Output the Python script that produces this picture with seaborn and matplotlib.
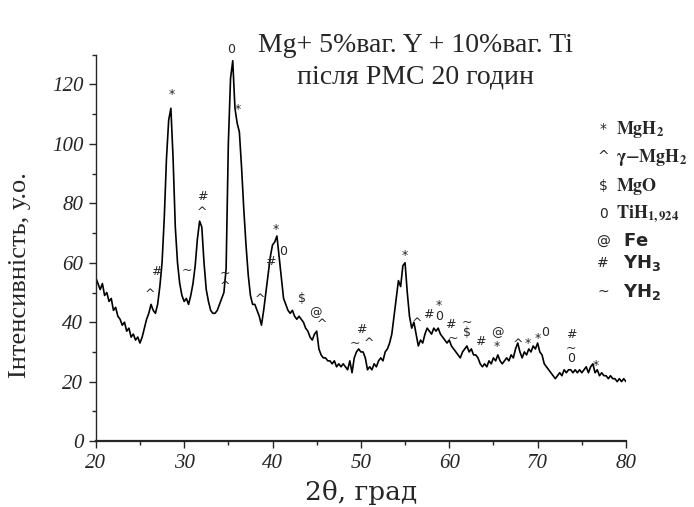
import numpy as np
import pandas as pd
import matplotlib
matplotlib.use("Agg")
import matplotlib.pyplot as plt
import seaborn as sns

# ---- data ----
two_theta_start, two_theta_end, two_theta_step = 20.0, 80.0, 0.25
intensity = [
    55, 53, 51, 53, 49, 50, 47, 48,        # 20.00 - 21.75
    44, 45, 42, 41, 39, 40, 37, 38,        # 22.00 - 23.75
    35, 36, 34, 35, 33, 35, 38, 41,        # 24.00 - 25.75
    43, 46, 44, 43, 46, 52, 60, 75,        # 26.00 - 27.75
    95, 108, 112, 95, 72, 60, 53, 49,      # 28.00 - 29.75
    47, 48, 46, 49, 53, 59, 68, 74,        # 30.00 - 31.75
    72, 60, 51, 47, 44, 43, 43, 44,        # 32.00 - 33.75
    46, 48, 50, 58, 100, 122, 128, 112,    # 34.00 - 35.75
    107, 104, 92, 78, 66, 56, 49, 46,      # 36.00 - 37.75
    46, 44, 42, 39, 44, 50, 56, 62,        # 38.00 - 39.75
    66, 67, 69, 62, 55, 48, 46, 44,        # 40.00 - 41.75
    43, 44, 42, 41, 42, 41, 40, 38,        # 42.00 - 43.75
    37, 35, 34, 36, 37, 31, 29, 28,        # 44.00 - 45.75
    28, 27, 27, 26, 27, 25, 26, 25,        # 46.00 - 47.75
    26, 25, 24, 27, 23, 28, 30, 31,        # 48.00 - 49.75
    30, 30, 28, 24, 25, 24, 26, 25,        # 50.00 - 51.75
    27, 28, 27, 30, 31, 33, 36, 42,        # 52.00 - 53.75
    48, 54, 52, 59, 60, 50, 42, 38,        # 54.00 - 55.75
    40, 36, 32, 34, 33, 36, 38, 37,        # 56.00 - 57.75
    36, 38, 37, 38, 36, 35, 34, 33,        # 58.00 - 59.75
    34, 32, 31, 30, 29, 28, 30, 31,        # 60.00 - 61.75
    32, 30, 31, 29, 29, 28, 26, 25,        # 62.00 - 63.75
    26, 25, 27, 26, 28, 27, 29, 27,        # 64.00 - 65.75
    26, 27, 28, 27, 29, 28, 31, 33,        # 66.00 - 67.75
    30, 28, 30, 29, 31, 30, 32, 31,        # 68.00 - 69.75
    33, 30, 29, 26, 25, 24, 23, 22,        # 70.00 - 71.75
    21, 22, 23, 22, 24, 23, 24, 24,        # 72.00 - 73.75
    23, 24, 23, 24, 23, 24, 25, 23,        # 74.00 - 75.75
    25, 26, 23, 24, 22, 23, 22, 22,        # 76.00 - 77.75
    21, 22, 21, 21, 20, 21, 20, 21,        # 78.00 - 79.75
    20,                                    # 80.00
]

# phase markers placed on the pattern (stacked markers share one entry)
ann_symbols = ['^', '#', '*', '~', '#', '^', '~', '^', '0', '*',
               '^', '#', '*', '0', '$', '@', '^', '~', '#', '^',
               '*', '^', '#', '*\n0', '#', '~', '~\n$', '#',
               '@', '*', '^', '*', '*', '0', '#', '~\n0', '*']
ann_x = [26.1, 26.9, 28.6, 30.3, 32.0, 32.0, 34.6, 34.6, 35.3, 36.1,
         38.6, 39.7, 40.4, 41.2, 43.3, 44.9, 45.6, 49.3, 50.0, 50.9,
         55.0, 56.3, 57.6, 58.8, 60.1, 60.4, 62.05, 63.5,
         65.5, 65.4, 67.8, 68.9, 70.0, 70.9, 73.8, 73.8, 76.6]
ann_y = [49.2, 57.0, 116.6, 57.6, 82.2, 76.8, 56.6, 51.9, 131.8, 111.6,
         47.5, 60.3, 71.1, 63.7, 47.9, 43.1, 39.1, 33.0, 37.6, 32.8,
         62.4, 39.7, 42.5, 43.8, 39.4, 34.4, 38.2, 33.4,
         36.4, 31.8, 32.4, 33.0, 34.4, 36.7, 35.7, 29.4, 25.6]

legend_symbols = ['*', '^', '$', '0', '@', '#', '~']
legend_labels = [r'$\mathbf{MgH_2}$', r'$\mathbf{\gamma{-}MgH_2}$', r'$\mathbf{MgO}$',
                 r'$\mathbf{TiH_{1,924}}$', r'$\mathbf{Fe}$', r'$\mathbf{YH_3}$',
                 r'$\mathbf{YH_2}$']
legend_fonts = ['stix', 'stix', 'stix', 'stix', 'dejavusans', 'dejavusans', 'dejavusans']

title_lines = ["Mg+ 5%ваг. Y + 10%ваг. Ti", "після РМС 20 годин"]
x_label = "2θ, град"
y_label = "Інтенсивність, у.о."

# ---- build table ----
two_theta = np.arange(two_theta_start, two_theta_end + two_theta_step / 2, two_theta_step)
df = pd.DataFrame({"two_theta": two_theta, "intensity": intensity})

sns.set_style("ticks")
plt.rcParams['font.family'] = ['Liberation Serif', 'DejaVu Serif']
plt.rcParams['mathtext.fontset'] = 'stix'

fig = plt.figure(figsize=(6.94, 5.07), dpi=100)
ax = fig.add_axes([0.138, 0.130, 0.764, 0.762])

sns.lineplot(data=df, x="two_theta", y="intensity", ax=ax, color="black", linewidth=1.2)

ax.set_xlim(20, 80)
ax.set_ylim(0, 130)
ax.set_xticks(np.arange(20, 81, 10))
ax.set_xticks(np.arange(25, 80, 10), minor=True)
ax.set_yticks(np.arange(0, 121, 20))
ax.set_yticks(np.arange(10, 131, 20), minor=True)
ax.tick_params(which='major', direction='out', length=5, width=1.0, labelsize=15, pad=4)
ax.tick_params(which='minor', direction='out', length=3, width=1.0)
for lab in ax.get_xticklabels() + ax.get_yticklabels():
    lab.set_fontstyle('italic')
    lab.set_family(['Liberation Serif'])
sns.despine(ax=ax)
ax.spines['bottom'].set_linewidth(1.6)
ax.spines['left'].set_linewidth(1.0)

ax.set_xlabel(x_label, fontsize=19, family=['DejaVu Serif'], labelpad=5)
ax.set_ylabel(y_label, fontsize=19)
ax.yaxis.set_label_coords(-0.122, 0.43)

for s, xx, yy in zip(ann_symbols, ann_x, ann_y):
    ax.text(xx, yy, s, ha='center', va='center', fontsize=9, family=['DejaVu Sans'],
            linespacing=0.75)

fig.text(0.598, 0.911, title_lines[0], ha='center', va='center', fontsize=20)
fig.text(0.598, 0.848, title_lines[1], ha='center', va='center', fontsize=20)

leg_y = [0.745, 0.690, 0.633, 0.578, 0.523, 0.482, 0.425]
for s, lab, mf, yy in zip(legend_symbols, legend_labels, legend_fonts, leg_y):
    fig.text(0.869, yy, s, ha='center', va='center', fontsize=10, family=['DejaVu Sans'])
    fig.text(0.888 if mf == 'stix' else 0.898, yy, lab, ha='left', va='center', fontsize=13,
             math_fontfamily=mf)

fig.savefig("out.png", dpi=100)
